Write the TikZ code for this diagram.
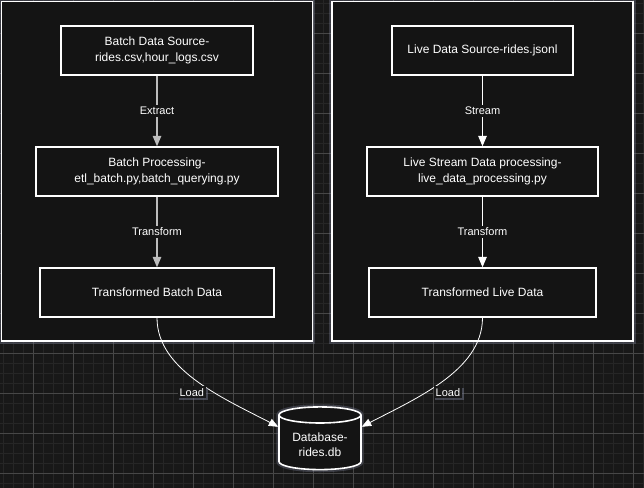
\documentclass[tikz,border=0pt]{standalone}
\usepackage{fontspec}
\setmainfont{Liberation Sans}
\usepackage{tikz}
\usetikzlibrary{shapes.geometric, arrows, shadows}
\definecolor{canvas}{HTML}{181818}
\definecolor{panelbg}{HTML}{141414}
\definecolor{minorgrid}{HTML}{262626}
\definecolor{majorgrid}{HTML}{474747}
\definecolor{glow}{HTML}{7A7F96}
\definecolor{dimline}{HTML}{BDBDBD}
\tikzstyle{panel} = [rectangle, draw=white, line width=1.4pt, fill=panelbg, inner sep=0pt, preaction={draw=glow, line width=4pt, opacity=0.35}]
\tikzstyle{stage} = [rectangle, minimum height=36.75pt, text centered, align=center, draw=white, line width=1.1pt, fill=panelbg, text=white, font=\fontsize{9}{11.5}\selectfont, inner sep=0pt]
\tikzstyle{arrow} = [line width=0.8pt,->,>=triangle 45]
\tikzstyle{loadline} = [line width=0.6pt, draw=white, ->, >=triangle 45]
\tikzstyle{flowlabel} = [fill=panelbg, text=white, font=\fontsize{8.25}{10}\selectfont, inner sep=1.5pt]
\tikzstyle{loadlabel} = [fill=canvas, text=white, font=\fontsize{8.25}{10}\selectfont, inner sep=1.5pt, drop shadow={fill=glow, opacity=0.45, shadow xshift=1.2pt, shadow yshift=-1.5pt}]
\tikzstyle{store} = [cylinder, shape border rotate=90, aspect=0.25, draw=white, line width=1.2pt, fill=panelbg, minimum width=61.5pt, minimum height=47pt, text=white, align=center, font=\fontsize{9}{11.5}\selectfont, preaction={draw=glow, line width=4pt, opacity=0.35}]

\begin{document}
\begin{tikzpicture}[x=0.75pt, y=-0.75pt, node distance=90.75pt]
        \useasboundingbox (0,0) rectangle (644,488);
        \fill [canvas] (0,0) rectangle (644,488);
        \foreach \g in {3,13,...,643}
            \draw [minorgrid, line width=0.6pt] (\g,0) -- (\g,488);
        \foreach \g in {3,13,...,483}
            \draw [minorgrid, line width=0.6pt] (0,\g) -- (644,\g);
        \foreach \g in {33,73,...,633}
            \draw [majorgrid, line width=0.6pt] (\g,0) -- (\g,488);
        \foreach \g in {33,73,...,473}
            \draw [majorgrid, line width=0.6pt] (0,\g) -- (644,\g);

        \node (batchpanel) [panel, minimum width=233.25pt, minimum height=254.6pt] at (157,171.25) {};
        \node (livepanel) [panel, minimum width=225.75pt, minimum height=254.6pt] at (482.5,171.25) {};

        \node (batchsrc) [stage, minimum width=144pt] at (157,50.5) {Batch Data Source-\\rides.csv,hour\_logs.csv};
        \node (batchproc) [stage, minimum width=181.5pt, below of=batchsrc] {Batch Processing-\\etl\_batch.py,batch\_querying.py};
        \node (batchout) [stage, minimum width=175.5pt, below of=batchproc] {Transformed Batch Data};

        \node (livesrc) [stage, minimum width=135.75pt] at (482.5,50.5) {Live Data Source-rides.jsonl};
        \node (liveproc) [stage, minimum width=173.25pt, below of=livesrc] {Live Stream Data processing-\\live\_data\_processing.py};
        \node (liveout) [stage, minimum width=170.25pt, below of=liveproc] {Transformed Live Data};

        \node (db) [store] at (320,444.5) {Database-\\rides.db};

        \draw [arrow, draw=dimline] (batchsrc) -- node[flowlabel] {Extract} (batchproc);
        \draw [arrow, draw=dimline] (batchproc) -- node[flowlabel] {Transform} (batchout);
        \draw [arrow, draw=white] (livesrc) -- node[flowlabel] {Stream} (liveproc);
        \draw [arrow, draw=white] (liveproc) -- node[flowlabel] {Transform} (liveout);

        \draw [loadline] (batchout.south) .. controls +(0,54) and +(-51,-27) .. node[loadlabel, xshift=-5pt, yshift=-7.5pt] {Load} (db.157);
        \draw [loadline] (liveout.south) .. controls +(0,54) and +(51,-27) .. node[loadlabel, xshift=5pt, yshift=-7.5pt] {Load} (db.23);
    \end{tikzpicture}
\end{document}
